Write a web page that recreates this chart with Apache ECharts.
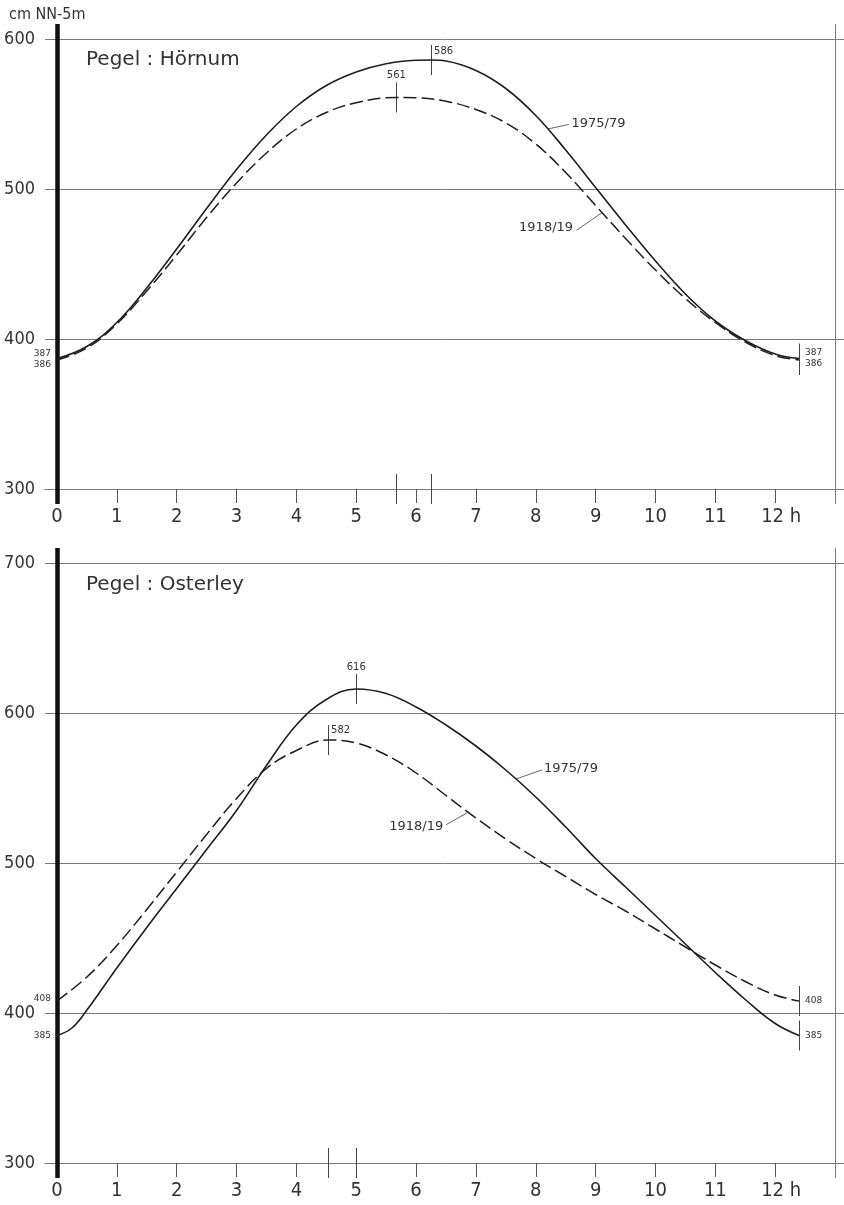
<!DOCTYPE html>
<html>
<head>
<meta charset="utf-8">
<script src="https://cdn.jsdelivr.net/npm/echarts@6/dist/echarts.min.js"></script>
<style>
  html, body { margin: 0; padding: 0; background: #fff; }
  #chart { width: 844px; height: 1205px; }
</style>
</head>
<body>
<div id="chart"></div>
<script>
// ---- data: mean tide curves (hours after low water, water level in cm above NN-5m) ----
const hourTicks = [0, 1, 2, 3, 4, 5, 6, 7, 8, 9, 10, 11, 12];
const hoernumLevelTicks = [300, 400, 500, 600];
const osterleyLevelTicks = [300, 400, 500, 600, 700];
const periodNames = ['1975/79', '1918/19'];

// Pegel Hörnum
const hoernumHours1975 = [0, 0.5, 1, 1.5, 2, 2.5, 3, 3.5, 4, 4.5, 5, 5.5, 6, 6.25, 6.5, 7, 7.5, 8, 8.5, 9, 9.5, 10, 10.5, 11, 11.5, 12, 12.4];
const hoernumLevels1975 = [387, 395, 411, 434, 460, 487, 513, 536, 555, 569, 578, 583.5, 585.8, 586, 585.3, 579, 567, 549, 526, 501, 476, 452, 430, 412, 399, 390, 387];
const hoernumHours1918 = [0, 0.5, 1, 1.5, 2, 2.5, 3, 3.5, 4, 4.5, 5, 5.67, 6, 6.5, 7, 7.5, 8, 8.5, 9, 9.5, 10, 10.5, 11, 11.5, 12, 12.4];
const hoernumLevels1918 = [386, 394, 410, 432, 456, 481, 504, 524, 540, 551, 557.5, 561, 560.8, 558.5, 553, 544, 530, 511, 489, 467, 446, 427, 411, 398, 389, 386];
const hoernumPeak1975 = [6.25, 586];
const hoernumPeak1918 = [5.67, 561];

// Pegel Osterley
const osterleyHours1975 = [0, 0.25, 0.5, 1, 1.5, 2, 2.5, 3, 3.5, 4, 4.5, 5, 5.5, 6, 6.5, 7, 7.5, 8, 8.5, 9, 9.5, 10, 10.5, 11, 11.5, 12, 12.4];
const osterleyLevels1975 = [385, 390, 402, 430, 457, 483, 509, 535, 565, 592, 609, 616, 613, 604, 592, 578, 562, 544, 524, 503, 484, 465, 446, 427, 409, 393, 385];
const osterleyHours1918 = [0, 0.5, 1, 1.5, 2, 2.5, 3, 3.5, 4, 4.53, 5, 5.5, 6, 6.5, 7, 7.5, 8, 8.5, 9, 9.5, 10, 10.5, 11, 11.5, 12, 12.4];
const osterleyLevels1918 = [408, 424, 445, 469, 494, 519, 543, 563, 575, 582, 580, 572, 560, 545, 530, 516, 503, 491, 479, 468, 456, 444, 432, 421, 412, 408];
const osterleyPeak1975 = [5.0, 616];
const osterleyPeak1918 = [4.53, 582];

// ---- styling ----
const NARROW = '"Liberation Sans Narrow", "DejaVu Sans Condensed", "Liberation Sans", sans-serif';
const SANS = '"DejaVu Sans", "Liberation Sans", sans-serif';
const INK = '#1e1e1e';
const GRID_GRAY = '#7a7a7a';
const TEXT = '#333';
const HALF_MARK = 10;     // half length of the value markers, in cm

function zip(xs, ys) { return xs.map((x, i) => [x, ys[i]]); }
function seg(a, b, style) {
  return [{ coord: a, lineStyle: style }, { coord: b }];
}
function note(coord, text, label) {
  return {
    coord: coord, value: text, symbolSize: 0,
    label: Object.assign({ show: true, formatter: text, fontSize: 10, color: TEXT, fontFamily: SANS }, label)
  };
}

const thin = { color: GRID_GRAY, width: 1, type: 'solid' };
const leader = { color: '#555', width: 0.9, type: 'solid' };
const markStyle = { color: '#444', width: 1, type: 'solid' };
const nameLabel = { fontSize: 13, fontFamily: SANS, distance: 1 };

function panel(idx, cfg) {
  const s1975 = zip(cfg.h1975, cfg.v1975);
  const s1918 = zip(cfg.h1918, cfg.v1918);
  const first1975 = s1975[0], last1975 = s1975[s1975.length - 1];
  const first1918 = s1918[0], last1918 = s1918[s1918.length - 1];
  const axisFloor = cfg.yMin;

  const gridLines = cfg.levelTicks.filter(v => v !== cfg.levelTicks[0])
    .map(v => ({ yAxis: v, lineStyle: thin }));

  const lines1975 = gridLines.concat([
    { xAxis: 0, lineStyle: { color: '#111', width: 4.5, type: 'solid' } },
    { xAxis: 13, lineStyle: thin },
    seg([cfg.p1975[0], cfg.p1975[1] - HALF_MARK], [cfg.p1975[0], cfg.p1975[1] + HALF_MARK], markStyle),
    seg([cfg.p1975[0], axisFloor], [cfg.p1975[0], axisFloor + 2 * HALF_MARK], markStyle),
    seg([last1975[0], last1975[1] - HALF_MARK], [last1975[0], last1975[1] + HALF_MARK], markStyle),
    seg(cfg.lead1975[0], cfg.lead1975[1], leader)
  ]);
  const lines1918 = [
    seg([cfg.p1918[0], cfg.p1918[1] - HALF_MARK], [cfg.p1918[0], cfg.p1918[1] + HALF_MARK], markStyle),
    seg([cfg.p1918[0], axisFloor], [cfg.p1918[0], axisFloor + 2 * HALF_MARK], markStyle),
    seg([last1918[0], last1918[1] - HALF_MARK], [last1918[0], last1918[1] + HALF_MARK], markStyle),
    seg(cfg.lead1918[0], cfg.lead1918[1], leader)
  ];

  const notes1975 = [
    note([cfg.p1975[0], cfg.p1975[1] + HALF_MARK], String(cfg.p1975[1]), cfg.peakLabel1975),
    note(first1975, String(first1975[1]), { position: 'left', distance: 6, offset: [0, cfg.startOff1975], fontSize: 9 }),
    note(last1975, String(last1975[1]), { position: 'right', distance: 6, offset: [0, cfg.endOff1975], fontSize: 9 }),
    note(cfg.name1975At, periodNames[0], Object.assign({ position: 'right' }, nameLabel))
  ];
  const notes1918 = [
    note([cfg.p1918[0], cfg.p1918[1] + HALF_MARK], String(cfg.p1918[1]), cfg.peakLabel1918),
    note(first1918, String(first1918[1]), { position: 'left', distance: 6, offset: [0, cfg.startOff1918], fontSize: 9 }),
    note(last1918, String(last1918[1]), { position: 'right', distance: 6, offset: [0, cfg.endOff1918], fontSize: 9 }),
    note(cfg.name1918At, periodNames[1], Object.assign({ position: 'left' }, nameLabel))
  ];

  const markLineBase = { silent: true, symbol: ['none', 'none'], label: { show: false }, animation: false };
  return [
    {
      name: periodNames[0], type: 'line', xAxisIndex: idx, yAxisIndex: idx,
      data: s1975, smooth: 0.4, showSymbol: false, symbol: 'none', z: 5,
      lineStyle: { color: INK, width: 1.6 },
      markLine: Object.assign({ data: lines1975 }, markLineBase),
      markPoint: { silent: true, symbol: 'circle', symbolSize: 0, data: notes1975, animation: false }
    },
    {
      name: periodNames[1], type: 'line', xAxisIndex: idx, yAxisIndex: idx,
      data: s1918, smooth: 0.4, showSymbol: false, symbol: 'none', z: 5,
      lineStyle: { color: INK, width: 1.5, type: [13, 5] },
      markLine: Object.assign({ data: lines1918 }, markLineBase),
      markPoint: { silent: true, symbol: 'circle', symbolSize: 0, data: notes1918, animation: false }
    }
  ];
}

const hoernum = panel(0, {
  h1975: hoernumHours1975, v1975: hoernumLevels1975,
  h1918: hoernumHours1918, v1918: hoernumLevels1918,
  p1975: hoernumPeak1975, p1918: hoernumPeak1918,
  levelTicks: hoernumLevelTicks, yMin: 290,
  peakLabel1975: { position: 'right', distance: 3, offset: [0, 6] },
  peakLabel1918: { position: 'top', distance: 2 },
  startOff1975: -5, startOff1918: 5, endOff1975: -6, endOff1918: 4,
  lead1975: [[8.2, 540], [8.55, 543]], name1975At: [8.58, 543.5],
  lead1918: [[8.68, 472.5], [9.1, 484]], name1918At: [8.64, 474.5]
});
const osterley = panel(1, {
  h1975: osterleyHours1975, v1975: osterleyLevels1975,
  h1918: osterleyHours1918, v1918: osterleyLevels1918,
  p1975: osterleyPeak1975, p1918: osterleyPeak1918,
  levelTicks: osterleyLevelTicks, yMin: 290,
  peakLabel1975: { position: 'top', distance: 2 },
  peakLabel1918: { position: 'right', distance: 3, offset: [0, 5] },
  startOff1975: 0, startOff1918: -2, endOff1975: 0, endOff1918: 0,
  lead1975: [[7.67, 556], [8.1, 562]], name1975At: [8.12, 562.7],
  lead1918: [[6.5, 525.5], [6.88, 534]], name1918At: [6.47, 524]
});

function xAxisFor(gridIndex) {
  return {
    type: 'value', gridIndex: gridIndex, min: -0.2, max: 13.15, offset: -15,
    splitLine: { show: false },
    axisLine: { show: true, onZero: false, lineStyle: { color: GRID_GRAY, width: 1 } },
    axisTick: { show: true, customValues: hourTicks, length: 14, lineStyle: { color: '#555', width: 1 } },
    axisLabel: {
      show: true, customValues: hourTicks, margin: 18, fontSize: 20, color: TEXT, fontFamily: NARROW,
      formatter: v => (v === 12 ? '{p|}12 h' : String(v)),
      rich: { p: { width: 12 } }
    }
  };
}
function yAxisFor(gridIndex, min, max, ticks) {
  return {
    type: 'value', gridIndex: gridIndex, min: min, max: max,
    splitLine: { show: false },
    axisLine: { show: false, onZero: false },
    axisTick: { show: false },
    axisLabel: { show: true, customValues: ticks, margin: 10, fontSize: 18, color: TEXT, fontFamily: NARROW }
  };
}

const option = {
  backgroundColor: '#ffffff',
  animation: false,
  textStyle: { fontFamily: SANS },
  title: [
    { text: 'cm NN-5m', left: 9, top: 7, padding: 0,
      textStyle: { fontSize: 16, fontWeight: 'normal', color: TEXT, fontFamily: NARROW } },
    { text: 'Pegel : Hörnum', left: 86, top: 50, padding: 0,
      textStyle: { fontSize: 20, fontWeight: 'normal', color: TEXT, fontFamily: SANS } },
    { text: 'Pegel : Osterley', left: 86, top: 575, padding: 0,
      textStyle: { fontSize: 20, fontWeight: 'normal', color: TEXT, fontFamily: SANS } }
  ],
  grid: [
    { left: 45, right: 0, top: 24, height: 480, outerBoundsMode: 'none', containLabel: false },
    { left: 45, right: 0, top: 548, height: 630, outerBoundsMode: 'none', containLabel: false }
  ],
  xAxis: [xAxisFor(0), xAxisFor(1)],
  yAxis: [
    yAxisFor(0, 290, 610, hoernumLevelTicks),
    yAxisFor(1, 290, 710, osterleyLevelTicks)
  ],
  series: hoernum.concat(osterley)
};

const chart = echarts.init(document.getElementById('chart'), null, { renderer: 'canvas' });
chart.setOption(option);
</script>
</body>
</html>
